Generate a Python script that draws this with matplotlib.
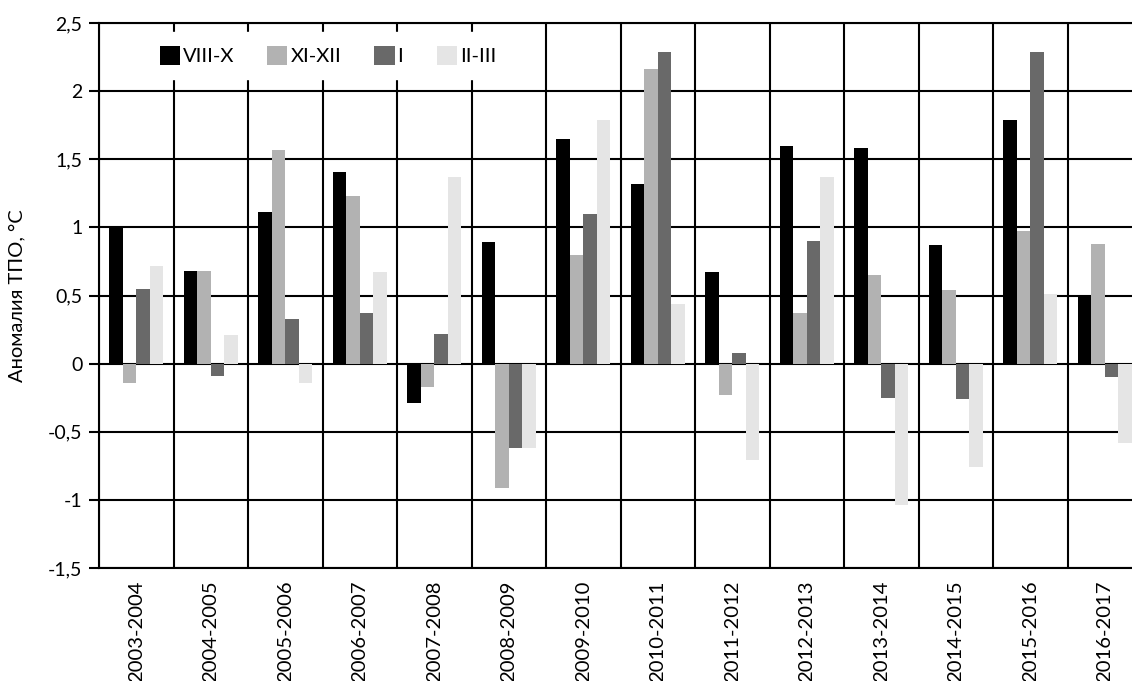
import matplotlib
matplotlib.use('Agg')
import matplotlib.pyplot as plt
import numpy as np

seasons = ['2003-2004', '2004-2005', '2005-2006', '2006-2007', '2007-2008',
           '2008-2009', '2009-2010', '2010-2011', '2011-2012', '2012-2013',
           '2013-2014', '2014-2015', '2015-2016', '2016-2017']

viii_x = [1.01, 0.68, 1.11, 1.41, -0.29, 0.89, 1.65, 1.32, 0.67, 1.60, 1.58, 0.87, 1.79, 0.50]
xi_xii = [-0.14, 0.68, 1.57, 1.23, -0.17, -0.91, 0.80, 2.16, -0.23, 0.37, 0.65, 0.54, 0.97, 0.88]
jan = [0.55, -0.09, 0.33, 0.37, 0.22, -0.62, 1.10, 2.29, 0.08, 0.90, -0.25, -0.26, 2.29, -0.10]
ii_iii = [0.72, 0.21, -0.14, 0.67, 1.37, -0.62, 1.79, 0.44, -0.71, 1.37, -1.04, -0.76, 0.51, -0.58]

series = [('VIII-X', viii_x, '#000000'),
          ('XI-XII', xi_xii, '#b2b2b2'),
          ('I', jan, '#696969'),
          ('II-III', ii_iii, '#e5e5e5')]

plt.rcParams['font.family'] = ['Lato', 'DejaVu Sans']

fig = plt.figure(figsize=(11.32, 6.81), dpi=100)
# the plot runs a little past the right edge of the picture, as in the original
ax = fig.add_axes([0.0875, 0.1659, 0.9214, 0.8003])

x = np.arange(len(seasons))
bw = 0.181
for i, (name, vals, color) in enumerate(series):
    ax.bar(x + (i - 1.5) * bw, vals, width=bw, color=color, label=name, zorder=3)

yticks = np.arange(-1.5, 2.51, 0.5)
ax.set_xlim(-0.5, len(seasons) - 0.5)
ax.set_ylim(-1.5, 2.5)
ax.set_yticks(yticks)
ax.set_yticklabels([f'{v:g}'.replace('.', ',') for v in yticks], fontsize=14)
ax.set_xticks(x)
ax.set_xticklabels(seasons, rotation=90, fontsize=14.6)
ax.set_xticks(np.arange(len(seasons) + 1) - 0.5, minor=True)
ax.tick_params(axis='x', which='both', length=0, pad=9)
ax.tick_params(axis='y', length=7, width=1.5, color='black', pad=5)

ax.grid(which='minor', axis='x', color='black', lw=1.5, zorder=1)
ax.grid(which='major', axis='y', color='black', lw=1.5, zorder=1)
ax.set_axisbelow(True)
for side in ('left', 'bottom', 'top', 'right'):
    ax.spines[side].set_linewidth(1.5)
    ax.spines[side].set_color('black')

ax.set_ylabel('Аномалия ТПО, °C', fontsize=14.5)
ax.yaxis.set_label_coords(-0.071, 0.5)

leg = ax.legend(loc='center left', bbox_to_anchor=(0.0445, 0.940), ncol=4, frameon=True,
                fontsize=14.5, handlelength=1.0, handleheight=1.05, handletextpad=0.15,
                columnspacing=1.65, borderpad=0.7, borderaxespad=0, fancybox=False)
leg.get_frame().set_edgecolor('white')
leg.get_frame().set_facecolor('white')
leg.get_frame().set_alpha(1)
leg.set_zorder(5)

fig.savefig('out.png', dpi=100)
